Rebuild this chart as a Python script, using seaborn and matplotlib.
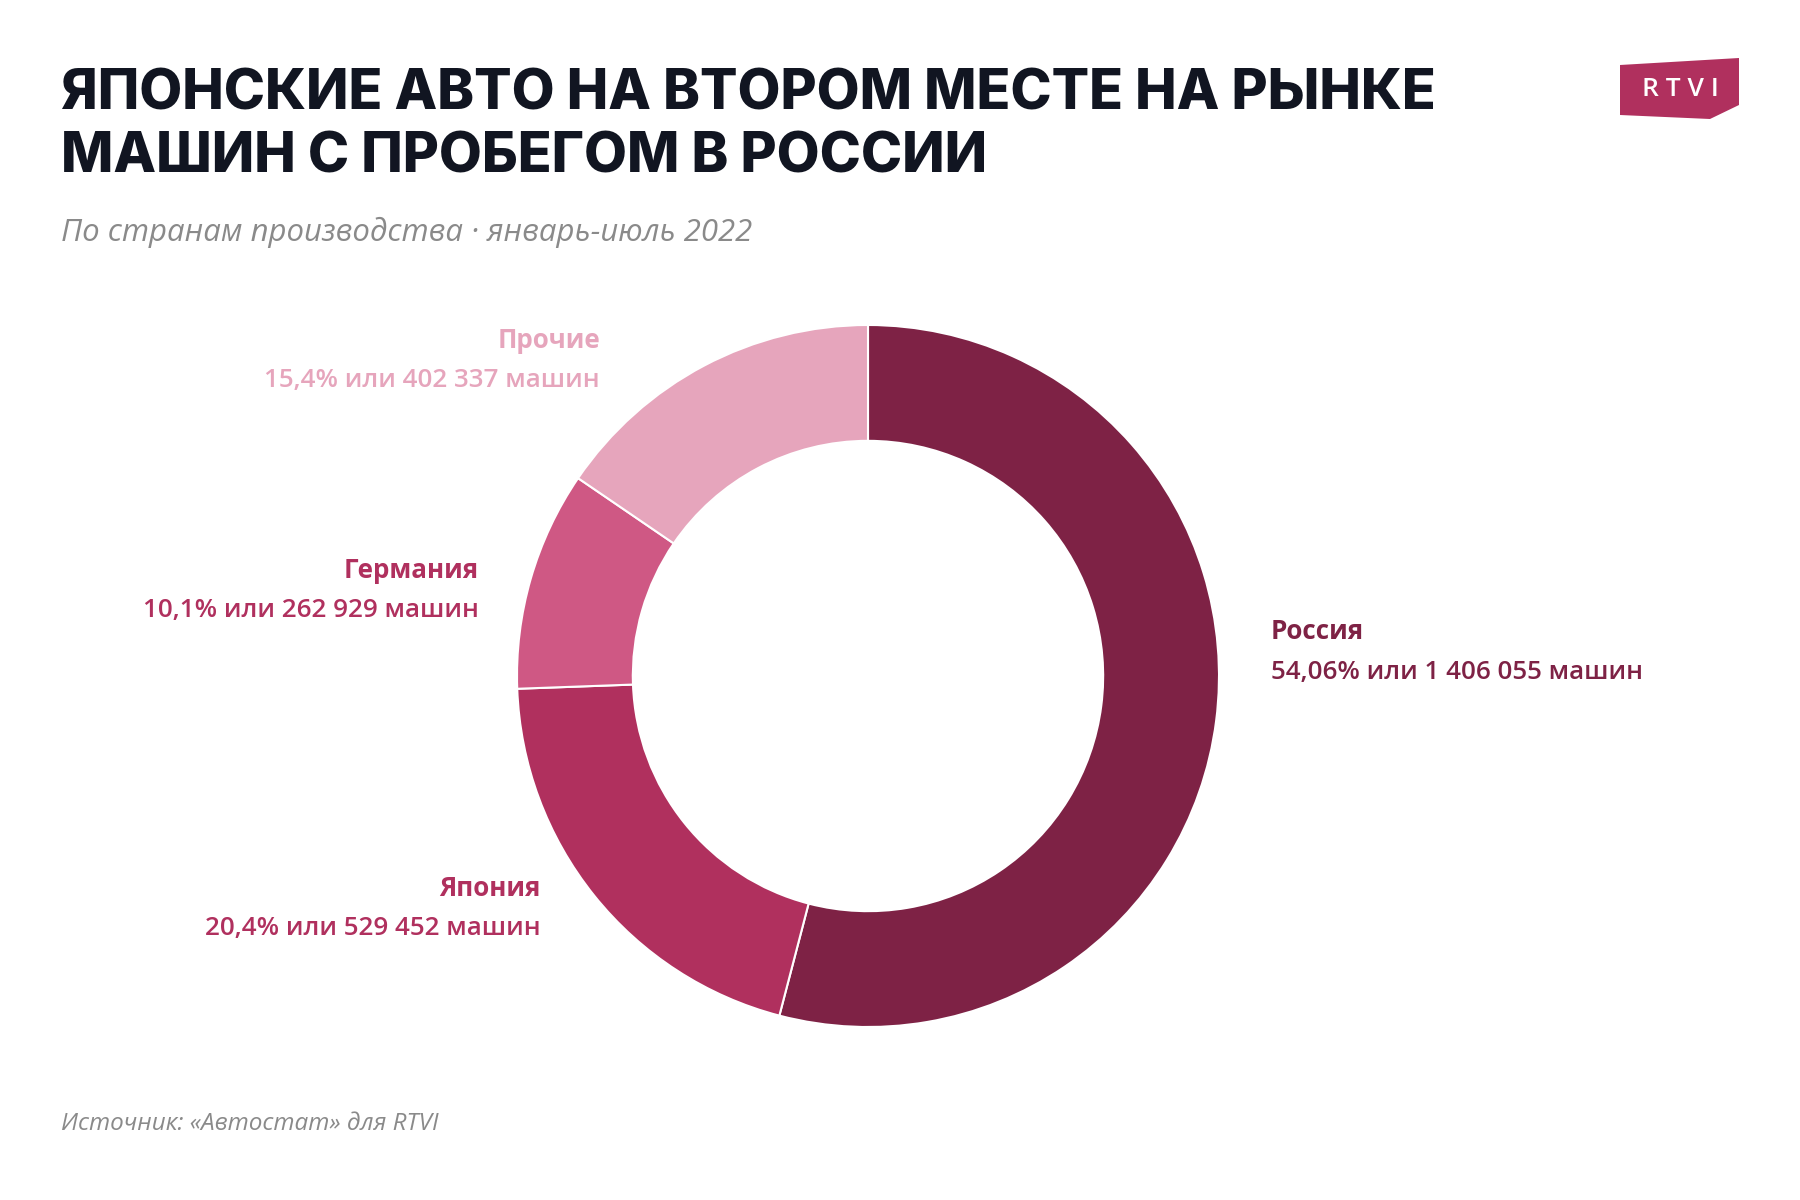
import matplotlib.pyplot as plt
import seaborn as sns
from matplotlib.patches import Polygon

# ==========================================================
# DATA
# ==========================================================

countries = ["Россия", "Япония", "Германия", "Прочие"]
cars = [1406055, 529452, 262929, 402337]
shares = ["54,06%", "20,4%", "10,1%", "15,4%"]
cars_text = ["1 406 055", "529 452", "262 929", "402 337"]

wedge_colors = ["#7E2245", "#B0305E", "#CF5884", "#E6A5BC"]
label_colors = ["#7E2245", "#B0305E", "#B0305E", "#E6A5BC"]

TITLE = "ЯПОНСКИЕ АВТО НА ВТОРОМ МЕСТЕ НА РЫНКЕ\nМАШИН С ПРОБЕГОМ В РОССИИ"
SUBTITLE = "По странам производства · январь-июль 2022"
SOURCE = "Источник: «Автостат» для RTVI"

# ==========================================================
# FIGURE
# ==========================================================

sns.set_theme(style="white")
plt.rcParams["font.family"] = ["Open Sans", "DejaVu Sans"]

W, H = 1800, 1200
fig = plt.figure(figsize=(18, 12), dpi=100)
fig.patch.set_facecolor("white")


def fx(px):
    return px / W


def fy(py):
    return 1 - py / H


# donut: centre (868, 676) px, outer radius 351 px
cx, cy, r = 868, 676, 351
ax = fig.add_axes([fx(cx - r), fy(cy + r), 2 * r / W, 2 * r / H])
ax.pie(
    cars,
    colors=wedge_colors,
    startangle=90,
    counterclock=False,
    radius=1,
    wedgeprops=dict(width=0.33, edgecolor="white", linewidth=1.5),
)
ax.set_xlim(-1, 1)
ax.set_ylim(-1, 1)
ax.set_aspect("equal")
ax.axis("off")

# labels (x px, y px of name line, alignment)
label_pos = [(1271, 632, "left"), (541, 889, "right"), (479, 571, "right"), (600, 341, "right")]
for i, (x, y, ha) in enumerate(label_pos):
    fig.text(fx(x), fy(y), countries[i], ha=ha, va="center",
             fontsize=18.7, fontweight="bold", color=label_colors[i])
    fig.text(fx(x), fy(y + 40), f"{shares[i]} или {cars_text[i]} машин", ha=ha, va="center",
             fontsize=18.7, fontweight="semibold", color=label_colors[i])

# title / subtitle / source
fig.text(fx(61), fy(126), TITLE, ha="left", va="center", fontsize=40,
         fontweight="heavy", family=["Inter", "DejaVu Sans"], color="#111521",
         linespacing=1.25)
fig.text(fx(61), fy(232), SUBTITLE, ha="left", va="center", fontsize=22.4,
         style="italic", color="#8A8A8A")
fig.text(fx(61), fy(1124), SOURCE, ha="left", va="center", fontsize=17.5,
         style="italic", color="#8A8A8A")

# RTVI logo
logo = Polygon(
    [(fx(1620), fy(65)), (fx(1739), fy(58)), (fx(1739), fy(105)),
     (fx(1710), fy(119)), (fx(1620), fy(115))],
    closed=True, transform=fig.transFigure, facecolor="#B0305E", edgecolor="none",
)
fig.patches.append(logo)
fig.text(fx(1680), fy(90), "R T V I", ha="center", va="center", fontsize=19,
         fontweight="semibold", color="white")

fig.savefig("out.png", dpi=100, facecolor="white")
